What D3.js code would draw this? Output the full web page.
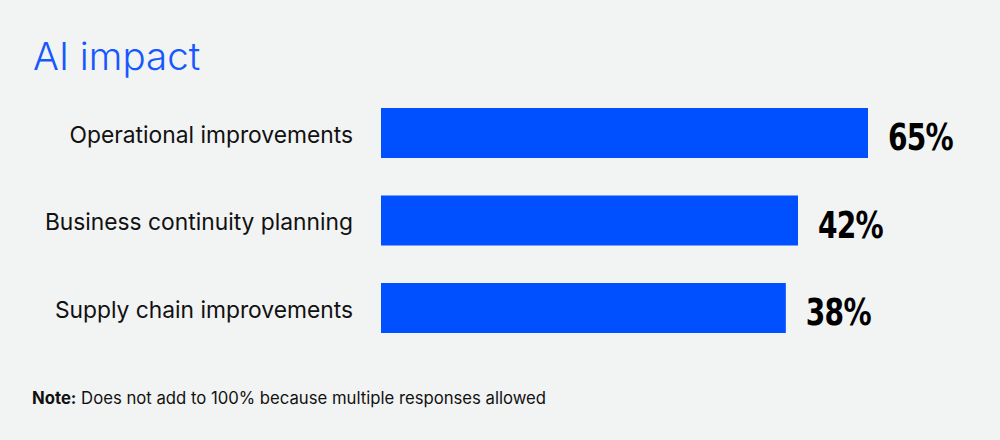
<!DOCTYPE html>
<html>
<head>
<meta charset="utf-8">
<script src="https://cdn.jsdelivr.net/npm/d3@7"></script>
<style>
  body { margin: 0; background: #f2f3f3; }
  svg { display: block; }
</style>
</head>
<body>
<svg id="chart" width="1000" height="440"></svg>
<script>
// Data
const categories = ["Operational improvements", "Business continuity planning", "Supply chain improvements"];
const values = [65, 42, 38];

const svg = d3.select("#chart");

// Background first so everything else sits on top
svg.append("rect").attr("width", 1000).attr("height", 440).attr("fill", "#f2f3f3");

const margin = { top: 108, right: 132, bottom: 107, left: 381 },
    width = +svg.attr("width") - margin.left - margin.right,
    height = +svg.attr("height") - margin.top - margin.bottom,
    g = svg.append("g").attr("transform", `translate(${margin.left},${margin.top})`);

// Title
svg.append("text")
    .attr("x", 33)
    .attr("y", 70)
    .attr("fill", "#1658ff")
    .style("font-family", "Inter, 'Noto Sans', sans-serif")
    .style("font-weight", 300)
    .style("font-size", "38.5px")
    .text("AI impact");

// Scales (stylised: axis does not start at zero)
const x = d3.scaleLinear().domain([-95, 65]).range([0, 487]);
const y = d3.scaleBand().domain(categories).range([0, height]).paddingInner(3 / 7).paddingOuter(0);

// Bars
g.selectAll(".bar")
    .data(categories)
    .enter().append("rect")
    .attr("class", "bar")
    .attr("x", 0)
    .attr("y", d => y(d))
    .attr("width", (d, i) => x(values[i]))
    .attr("height", y.bandwidth())
    .attr("fill", "#0050ff");

// Category labels
g.selectAll(".label")
    .data(categories)
    .enter().append("text")
    .attr("class", "label")
    .attr("x", -28)
    .attr("y", d => y(d) + y.bandwidth() / 2 + 9.5)
    .attr("text-anchor", "end")
    .attr("fill", "#111")
    .style("font-family", "Inter, 'Noto Sans', sans-serif")
    .style("font-size", "22.8px")
    .text(d => d);

// Value labels (condensed heavy look)
g.selectAll(".value")
    .data(categories)
    .enter().append("text")
    .attr("class", "value")
    .attr("transform", (d, i) => `translate(${x(values[i]) + 20},${y(d) + y.bandwidth() / 2 + 17}) scale(0.76,1)`)
    .attr("fill", "#000")
    .style("font-family", "'DejaVu Sans', sans-serif")
    .style("font-weight", "bold")
    .style("font-size", "37px")
    .style("letter-spacing", "-1px")
    .text((d, i) => values[i] + "%");

// Note
const note = svg.append("text")
    .attr("x", 32)
    .attr("y", 404)
    .attr("fill", "#111")
    .style("font-family", "Inter, 'Noto Sans', sans-serif")
    .style("font-size", "16.7px");
note.append("tspan").style("font-weight", "bold").text("Note:");
note.append("tspan").text(" Does not add to 100% because multiple responses allowed");
</script>
</body>
</html>
